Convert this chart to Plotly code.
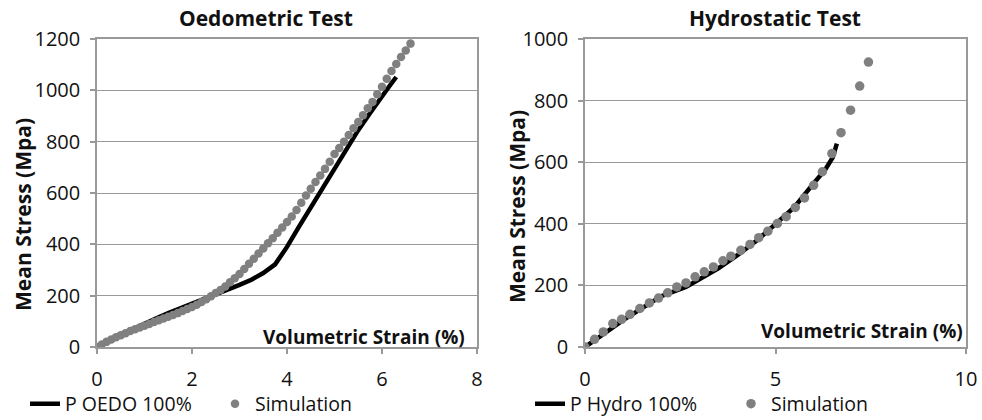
import plotly.graph_objects as go
from plotly.subplots import make_subplots

# ---- Oedometric test data ----
oedo_exp_strain = [0, 0.25, 0.5, 0.75, 1.0, 1.25, 1.5, 1.75, 2.0, 2.25, 2.5, 2.75, 3.0,
                   3.25, 3.5, 3.75, 4.0, 4.25, 4.5, 4.75, 5.0, 5.25, 5.5, 5.75, 6.0, 6.15, 6.3]
oedo_exp_stress = [0, 20, 44, 69, 92, 112, 132, 150, 166, 185, 203, 222, 242,
                   262, 288, 322, 390, 468, 545, 620, 695, 770, 845, 912, 980, 1015, 1052]

oedo_sim_strain = [0.0, 0.1, 0.2, 0.3, 0.4, 0.5, 0.6, 0.7, 0.8, 0.9, 1.0, 1.1, 1.2, 1.3,
                   1.4, 1.5, 1.6, 1.7, 1.8, 1.9, 2.0, 2.1, 2.2, 2.3, 2.4, 2.5, 2.6, 2.7,
                   2.8, 2.9, 3.0, 3.1, 3.2, 3.3, 3.4, 3.5, 3.6, 3.7, 3.8, 3.9, 4.0, 4.1,
                   4.2, 4.3, 4.4, 4.5, 4.6, 4.7, 4.8, 4.9, 5.0, 5.1, 5.2, 5.3, 5.4, 5.5,
                   5.6, 5.7, 5.8, 5.9, 6.0, 6.1, 6.2, 6.3, 6.4, 6.5, 6.6]
oedo_sim_stress = [0, 10, 20, 29, 38, 46, 54, 62, 69, 76, 83, 90, 97, 104,
                   111, 118, 125, 132, 140, 148, 156, 165, 175, 186, 198, 210, 222, 236,
                   252, 268, 284, 304, 324, 344, 364, 384, 404, 424, 445, 466, 487, 508,
                   534, 562, 590, 617, 643, 668, 694, 722, 752, 775, 800, 826, 852, 877,
                   903, 930, 955, 985, 1014, 1045, 1075, 1103, 1130, 1155, 1182]

# ---- Hydrostatic test data ----
hydro_exp_strain = [0, 0.25, 0.5, 1.0, 1.5, 2.0, 2.65, 3.0, 3.5, 4.0, 4.5, 5.0, 5.5, 6.0, 6.3, 6.5, 6.61]
hydro_exp_stress = [0, 20, 43, 87, 125, 165, 195, 220, 255, 298, 345, 399, 455, 531, 575, 615, 660]

hydro_sim_strain = [0, 0.25, 0.48, 0.73, 0.96, 1.18, 1.44, 1.69, 1.93, 2.17, 2.41, 2.65,
                    2.89, 3.13, 3.37, 3.62, 3.83, 4.09, 4.33, 4.56, 4.80, 5.05, 5.28, 5.52,
                    5.76, 6.0, 6.23, 6.48, 6.72, 6.97, 7.21, 7.44]
hydro_sim_stress = [0, 25, 49, 76, 90, 106, 125, 143, 159, 176, 195, 208,
                    228, 244, 260, 280, 295, 314, 333, 355, 376, 401, 423, 453,
                    484, 525, 569, 628, 696, 769, 847, 925]

oedo_xticks = [0, 2, 4, 6, 8]
oedo_yticks = [0, 200, 400, 600, 800, 1000, 1200]
hydro_xticks = [0, 5, 10]
hydro_yticks = [0, 200, 400, 600, 800, 1000]

W, H = 982, 420
FONT = "Open Sans"
GRAY = "#999999"
DOT = "#808080"
TXT = "#111111"


def px(v):
    return v / W


def py(v):
    return 1 - v / H


fig = make_subplots(rows=1, cols=2)

fig.add_trace(go.Scatter(x=oedo_exp_strain, y=oedo_exp_stress, mode="lines",
                         line=dict(color="black", width=4.5), name="P OEDO 100%",
                         legend="legend"), row=1, col=1)
fig.add_trace(go.Scatter(x=oedo_sim_strain, y=oedo_sim_stress, mode="markers",
                         marker=dict(color=DOT, size=8.5), name="Simulation",
                         legend="legend"), row=1, col=1)
fig.add_trace(go.Scatter(x=hydro_exp_strain, y=hydro_exp_stress, mode="lines",
                         line=dict(color="black", width=4.5), name="P Hydro 100%",
                         legend="legend2"), row=1, col=2)
fig.add_trace(go.Scatter(x=hydro_sim_strain, y=hydro_sim_stress, mode="markers",
                         marker=dict(color=DOT, size=9.5), name="Simulation",
                         legend="legend2"), row=1, col=2)

axis_common = dict(showline=True, linecolor=GRAY, linewidth=1.5, mirror=True,
                   ticks="outside", ticklen=5, tickcolor=GRAY, tickwidth=1.5,
                   tickfont=dict(family=FONT, size=20, color=TXT),
                   automargin=False, zeroline=False)

fig.update_xaxes(**axis_common, showgrid=False)
fig.update_yaxes(**axis_common, showgrid=True, gridcolor=GRAY, gridwidth=1.2)

yd = [py(347), py(39)]
fig.update_layout(
    xaxis=dict(domain=[px(97), px(477)], range=[0, 8], tickvals=oedo_xticks, ticklabelstandoff=8),
    yaxis=dict(domain=yd, range=[0, 1200], tickvals=oedo_yticks, ticklabelstandoff=6),
    xaxis2=dict(domain=[px(585), px(966)], range=[0, 10], tickvals=hydro_xticks, ticklabelstandoff=8),
    yaxis2=dict(domain=yd, range=[0, 1000], tickvals=hydro_yticks, ticklabelstandoff=6),
    width=W, height=H,
    margin=dict(l=0, r=0, t=0, b=0, autoexpand=False),
    plot_bgcolor="white", paper_bgcolor="white",
    legend=dict(orientation="h", x=px(25), y=py(404), xanchor="left", yanchor="middle",
                font=dict(family=FONT, size=19.5, color=TXT),
                entrywidth=145, entrywidthmode="pixels", bgcolor="rgba(0,0,0,0)"),
    legend2=dict(orientation="h", x=px(530), y=py(404), xanchor="left", yanchor="middle",
                 font=dict(family=FONT, size=19.5, color=TXT),
                 entrywidth=156, entrywidthmode="pixels", bgcolor="rgba(0,0,0,0)"),
)

annotations = [
    dict(text="Oedometric Test", x=px(266), y=py(18), size=21),
    dict(text="Hydrostatic Test", x=px(775), y=py(18), size=21),
    dict(text="Mean Stress (Mpa)", x=px(23), y=py(215), textangle=-90, size=21),
    dict(text="Mean Stress (Mpa)", x=px(517), y=py(207), textangle=-90, size=21),
    dict(text="Volumetric Strain (%)", x=px(467), y=py(337), xanchor="right", size=19),
    dict(text="Volumetric Strain (%)", x=px(965), y=py(331), xanchor="right", size=19),
]
for a in annotations:
    a.setdefault("xanchor", "center")
    size = a.pop("size")
    fig.add_annotation(xref="paper", yref="paper", showarrow=False, yanchor="middle",
                       font=dict(family=FONT, size=size, color=TXT, weight="bold"), **a)

fig.write_html("out.html")
